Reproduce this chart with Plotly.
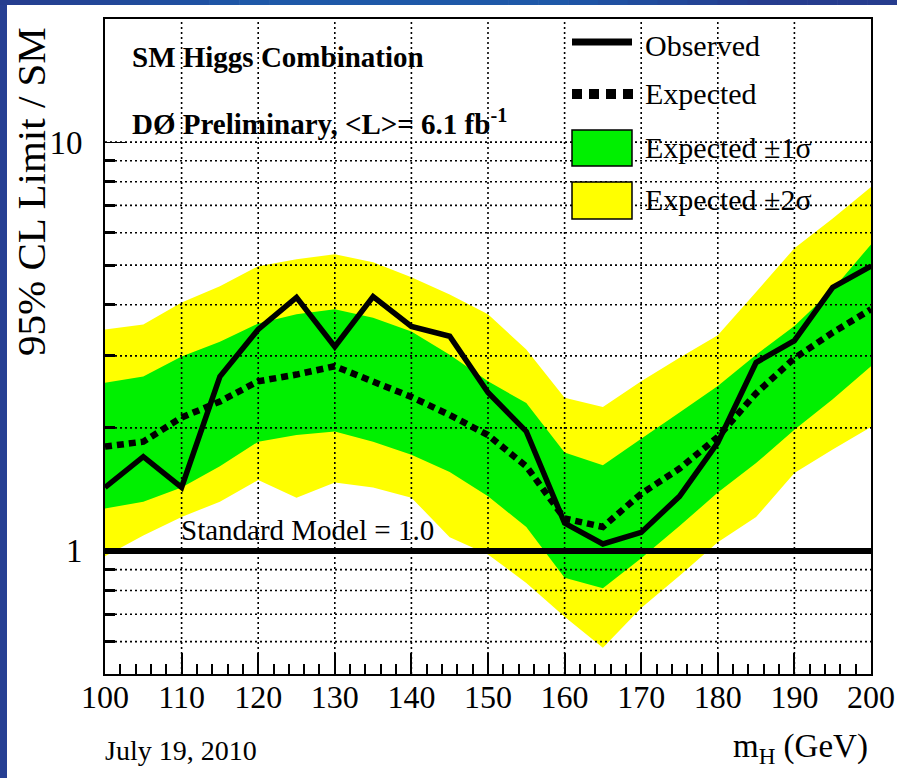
import plotly.graph_objects as go

# ---------------- data ----------------
mass = [100, 105, 110, 115, 120, 125, 130, 135, 140, 145, 150,
        155, 160, 165, 170, 175, 180, 185, 190, 195, 200]
observed = [1.43, 1.70, 1.43, 2.67, 3.48, 4.17, 3.16, 4.19, 3.54, 3.35, 2.44,
            1.96, 1.17, 1.04, 1.11, 1.36, 1.84, 2.89, 3.27, 4.41, 4.97]
expected = [1.80, 1.85, 2.12, 2.32, 2.60, 2.70, 2.83, 2.60, 2.38, 2.15, 1.92,
            1.61, 1.20, 1.145, 1.38, 1.59, 1.90, 2.43, 2.96, 3.42, 3.90]
sig1_hi = [2.58, 2.67, 2.99, 3.25, 3.60, 3.79, 3.90, 3.72, 3.44, 3.02, 2.60,
           2.30, 1.74, 1.62, 1.88, 2.18, 2.53, 3.02, 3.55, 4.36, 5.62]
sig1_lo = [1.27, 1.32, 1.43, 1.61, 1.85, 1.92, 1.96, 1.85, 1.72, 1.56, 1.36,
           1.145, 0.86, 0.81, 0.96, 1.15, 1.39, 1.64, 1.98, 2.35, 2.83]
sig2_hi = [3.48, 3.58, 4.05, 4.44, 4.97, 5.17, 5.32, 5.08, 4.67, 4.24, 3.79,
           3.11, 2.37, 2.25, 2.60, 2.97, 3.37, 4.30, 5.50, 6.50, 7.76]
sig2_lo = [0.97, 1.09, 1.21, 1.32, 1.49, 1.35, 1.47, 1.43, 1.35, 1.08, 0.98,
           0.835, 0.69, 0.58, 0.725, 0.87, 1.05, 1.21, 1.55, 1.77, 2.01]
sm_value = 1.0

x_ticks = [100, 110, 120, 130, 140, 150, 160, 170, 180, 190, 200]
y_major = [1, 10]
y_minor = [0.6, 0.7, 0.8, 0.9, 2, 3, 4, 5, 6, 7, 8, 9]
grid_x = [110, 120, 130, 140, 150, 160, 170, 180, 190]
grid_y = [0.6, 0.7, 0.8, 0.9, 2, 3, 4, 5, 6, 7, 8, 9, 10]
x_range = [100, 200]
y_range = [0.5, 20]

FONT = "Liberation Serif"
GREEN = "#00f000"
YELLOW = "#ffff00"
BLUE = "#263f93"

# plot area in pixels (figure made a few px shorter so the page never scrolls)
W, H = 897, 778
L, R, T, B = 105, 26, 19, 104
PW, PH = W - L - R, H - T - B


def px(x):
    return (x - L) / PW


def py(y):
    return (H - B - y) / PH


fig = go.Figure()

# +-2 sigma band
fig.add_trace(go.Scatter(x=mass + mass[::-1], y=sig2_hi + sig2_lo[::-1],
                         fill="toself", fillcolor=YELLOW, mode="none",
                         hoverinfo="skip", showlegend=False))
# +-1 sigma band
fig.add_trace(go.Scatter(x=mass + mass[::-1], y=sig1_hi + sig1_lo[::-1],
                         fill="toself", fillcolor=GREEN, mode="none",
                         hoverinfo="skip", showlegend=False))

# dotted grid above the bands
gx, gy = [], []
for v in grid_x:
    gx += [v, v, None]
    gy += [y_range[0], y_range[1], None]
for v in grid_y:
    gx += [x_range[0], x_range[1], None]
    gy += [v, v, None]
fig.add_trace(go.Scatter(x=gx, y=gy, mode="lines",
                         line=dict(color="black", width=1.6, dash="2px,3px"),
                         hoverinfo="skip", showlegend=False))

# expected
fig.add_trace(go.Scatter(x=mass, y=expected, mode="lines",
                         line=dict(color="black", width=6.5, dash="7px,5px"),
                         showlegend=False))
# observed
fig.add_trace(go.Scatter(x=mass, y=observed, mode="lines",
                         line=dict(color="black", width=5.5),
                         showlegend=False))
# SM = 1 line
fig.add_trace(go.Scatter(x=x_range, y=[sm_value, sm_value], mode="lines",
                         line=dict(color="black", width=6),
                         showlegend=False))

shapes = []
# blue slide frame (left strip and top strip with a soft lighter centre)
shapes.append(dict(type="rect", xref="paper", yref="paper",
                   x0=px(0), x1=px(7), y0=py(H), y1=py(0),
                   fillcolor=BLUE, line=dict(width=0), layer="above"))
dark = (38, 60, 142)
light = (30, 88, 168)
nseg = 30
for i in range(nseg):
    a = i * W / nseg
    b = (i + 1) * W / nseg
    c = (a + b) / 2
    if c < 250:
        t = c / 250
    elif c < 560:
        t = 1.0
    elif c < 760:
        t = 1 - (c - 560) / 200
    else:
        t = 0.0
    col = tuple(int(dark[k] + (light[k] - dark[k]) * t) for k in range(3))
    shapes.append(dict(type="rect", xref="paper", yref="paper",
                       x0=px(a), x1=px(min(b + 0.6, W)), y0=py(5), y1=py(0),
                       fillcolor="rgb(%d,%d,%d)" % col, line=dict(width=0),
                       layer="above"))
# legend symbols
shapes.append(dict(type="line", xref="paper", yref="paper",
                   x0=px(572), x1=px(632), y0=py(42), y1=py(42),
                   line=dict(color="black", width=7)))
shapes.append(dict(type="line", xref="paper", yref="paper",
                   x0=px(572), x1=px(633), y0=py(94), y1=py(94),
                   line=dict(color="black", width=10, dash="10px,7px")))
shapes.append(dict(type="rect", xref="paper", yref="paper",
                   x0=px(572), x1=px(632), y0=py(166), y1=py(130),
                   fillcolor=GREEN, line=dict(color="black", width=1.5)))
shapes.append(dict(type="rect", xref="paper", yref="paper",
                   x0=px(572), x1=px(632), y0=py(219), y1=py(182),
                   fillcolor=YELLOW, line=dict(color="black", width=1.5)))

ann = []


def text(t, x, y, size, xanchor="left", bold=False, angle=0):
    ann.append(dict(text=f"<b>{t}</b>" if bold else t, xref="paper", yref="paper",
                    x=px(x), y=py(y), xanchor=xanchor, yanchor="middle",
                    showarrow=False, textangle=angle,
                    font=dict(family=FONT, size=size, color="black")))


text("SM Higgs Combination", 130, 57, 29, bold=True)
text("DØ Preliminary, &lt;L&gt;= 6.1 fb<sup>-1</sup>", 130, 122, 29, bold=True)
text("Observed", 643, 45, 30)
text("Expected", 643, 93, 30)
text("Expected ±1σ", 643, 147, 30)
text("Expected ±2σ", 643, 199, 30)
text("Standard Model = 1.0", 179, 530, 29)
text("July 19, 2010", 103, 750, 28)
text("m<sub>H</sub> (GeV)", 870, 748, 33, xanchor="right")
ann.append(dict(text="95% CL Limit / SM", xref="paper", yref="paper",
                x=px(31), y=py(192), xanchor="center", yanchor="middle",
                showarrow=False, textangle=-90,
                font=dict(family=FONT, size=41, color="black")))

fig.update_layout(
    width=W, height=H,
    margin=dict(l=L, r=R, t=T, b=B, pad=0, autoexpand=False),
    paper_bgcolor="white", plot_bgcolor="white",
    shapes=shapes, annotations=ann,
    showlegend=False,
    xaxis=dict(range=x_range, tickvals=x_ticks, ticks="inside", ticklen=21,
               tickwidth=1.5, tickcolor="black", showgrid=False, zeroline=False,
               showline=True, linecolor="black", linewidth=2, mirror=True,
               automargin=False,
               tickfont=dict(family=FONT, size=32, color="black"),
               ticklabelstandoff=-6,
               minor=dict(dtick=2, ticks="inside", ticklen=10, tickwidth=1.5,
                          tickcolor="black", showgrid=False)),
    yaxis=dict(type="log", range=[-0.30103, 1.30103], tickvals=y_major,
               ticktext=["1", "10"], ticks="inside", ticklen=22, tickwidth=1.2,
               tickcolor="black", showgrid=False, zeroline=False,
               showline=True, linecolor="black", linewidth=2, mirror=True,
               automargin=False,
               tickfont=dict(family=FONT, size=33, color="black"),
               ticklabelstandoff=14,
               minor=dict(tickvals=y_minor, ticks="inside", ticklen=10,
                          tickwidth=2.5, tickcolor="black", showgrid=False)),
)

fig.write_html("out.html", config={"displayModeBar": False})
